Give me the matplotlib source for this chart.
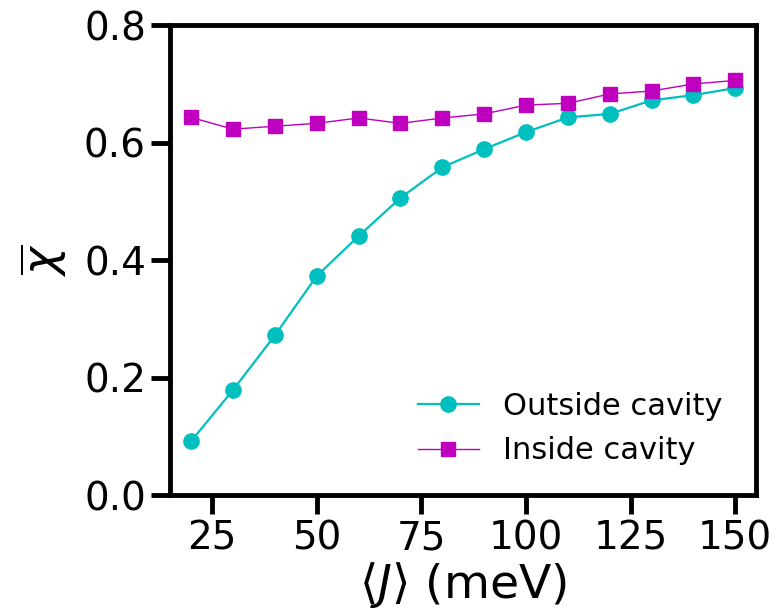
import numpy as np
import matplotlib.pyplot as plt

# mean coupling <J> in meV
J = [20, 30, 40, 50, 60, 70, 80, 90, 100, 110, 120, 130, 140, 150]
chi_outside = [0.092, 0.179, 0.272, 0.373, 0.441, 0.506, 0.558, 0.589,
               0.618, 0.643, 0.649, 0.672, 0.681, 0.693]
chi_inside = [0.643, 0.623, 0.628, 0.633, 0.642, 0.633, 0.642, 0.649,
              0.664, 0.667, 0.683, 0.688, 0.700, 0.706]

fig = plt.figure(figsize=(7.74, 6.15), dpi=100)
ax = fig.add_axes([0.22, 0.195, 0.757, 0.764])

ax.plot(J, chi_outside, 'c-o', lw=1.6, ms=11, label='Outside cavity')
ax.plot(J, chi_inside, 'm-s', lw=1.0, ms=10, label='Inside cavity')

ax.set_xlim(15, 155)
ax.set_ylim(0, 0.8)
ax.set_yticks([0.0, 0.2, 0.4, 0.6, 0.8])
ax.set_xticks([25, 50, 75, 100, 125, 150])
ax.set_xlabel(r'$\langle J\rangle$ (meV)', fontsize=34, labelpad=2)
ax.set_ylabel(r'$\overline{\chi}$', fontsize=34, labelpad=10)
ax.tick_params(labelsize=28, width=3.5, length=14)
for s in ax.spines.values():
    s.set_linewidth(3.5)

ax.legend(loc='lower right', frameon=False, fontsize=22,
          bbox_to_anchor=(0.99, 0.005))

fig.savefig('out.png', dpi=100)
